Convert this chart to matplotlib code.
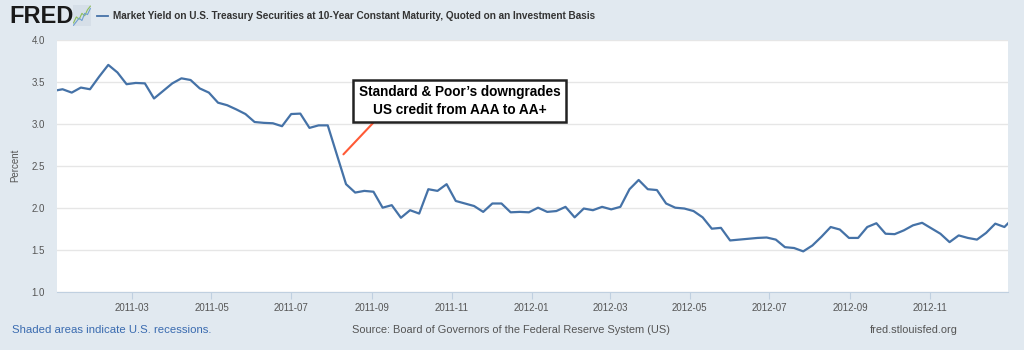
import pandas as pd
import numpy as np
import matplotlib
matplotlib.use("Agg")
import matplotlib.pyplot as plt
import matplotlib.dates as mdates

plt.rcParams['font.family'] = ['Liberation Sans', 'DejaVu Sans']

# weekly averages (week ending Friday), 10-year treasury yield, percent
dates = pd.date_range('2010-12-31', '2013-01-04', freq='W-FRI')
yield_2010 = [3.39]
yield_2011 = [3.41, 3.37, 3.43, 3.41,
              3.56, 3.70, 3.61, 3.47,
              3.485, 3.48, 3.30, 3.39,
              3.48, 3.54, 3.52, 3.42, 3.37,
              3.25, 3.22, 3.17, 3.115,
              3.02, 3.01, 3.005, 2.97,
              3.115, 3.12, 2.95, 2.98, 2.98,
              2.63, 2.28, 2.18, 2.20,
              2.19, 2.00, 2.03, 1.88, 1.97,
              1.93, 2.22, 2.20, 2.28,
              2.08, 2.05, 2.02, 1.95,
              2.05, 2.05, 1.945, 1.95, 1.945]
yield_2012 = [2.00, 1.95, 1.96, 2.01,
              1.885, 1.99, 1.97, 2.01,
              1.98, 2.01, 2.22, 2.33, 2.22,
              2.21, 2.05, 2.00, 1.99,
              1.96, 1.885, 1.75, 1.76,
              1.61, 1.62, 1.63, 1.64, 1.645,
              1.62, 1.53, 1.52, 1.48,
              1.55, 1.655, 1.77, 1.74, 1.64,
              1.64, 1.77, 1.815, 1.69,
              1.685, 1.73, 1.79, 1.82,
              1.755, 1.69, 1.59, 1.67, 1.64,
              1.62, 1.70, 1.81, 1.77]
yield_2013 = [1.88]
values = yield_2010 + yield_2011 + yield_2012 + yield_2013

y_ticks = [1.0, 1.5, 2.0, 2.5, 3.0, 3.5, 4.0]
x_ticks = pd.date_range('2011-03-01', '2012-11-01', freq='2MS')

note_text = "Standard & Poor\u2019s downgrades\nUS credit from AAA to AA+"
note_date = pd.Timestamp('2011-08-10')
note_value = 2.635
note_box_date = pd.Timestamp('2011-11-07')
note_box_value = 3.27
title = ("Market Yield on U.S. Treasury Securities at 10-Year Constant Maturity, "
         "Quoted on an Investment Basis")

bg = '#e1e9f0'
line_color = '#4572a7'

fig = plt.figure(figsize=(10.24, 3.5), dpi=100, facecolor=bg)
ax = fig.add_axes([0.056, 0.1666, 0.9287, 0.72])
ax.set_facecolor('white')

ax.plot(dates, values, color=line_color, linewidth=1.6, solid_joinstyle='round')
ax.set_xlim(pd.Timestamp('2011-01-03'), pd.Timestamp('2012-12-31'))
ax.set_ylim(1.0, 4.0)
ax.set_yticks(y_ticks)
ax.set_yticklabels([f"{v:.1f}" for v in y_ticks])
ax.set_xticks(x_ticks)
ax.xaxis.set_major_formatter(mdates.DateFormatter('%Y-%m'))

ax.grid(axis='y', color='#e6e6e6', linewidth=1)
ax.set_axisbelow(True)
for side in ['top', 'right', 'left']:
    ax.spines[side].set_visible(False)
ax.spines['bottom'].set_color('#c0d0e0')
ax.tick_params(axis='y', length=0, labelsize=7, labelcolor='#555555', pad=9)
ax.tick_params(axis='x', length=5, direction='out', color='#c0d0e0',
               labelsize=7, labelcolor='#555555', pad=3)
fig.text(15 / 1024, 1 - 165 / 350, 'Percent', rotation=90, fontsize=7,
         color='#555555', ha='center', va='center')

# annotation of the downgrade
ax.annotate(note_text, xy=(note_date, note_value),
            xytext=(note_box_date, note_box_value),
            ha='center', va='center', fontsize=9.8, fontweight='bold',
            color='black', linespacing=1.3,
            bbox=dict(boxstyle='square,pad=0.4', facecolor='white',
                      edgecolor='#222222', linewidth=1.8),
            arrowprops=dict(arrowstyle='-', color='#ff5a36', linewidth=1.5,
                            shrinkA=0, shrinkB=0, relpos=(0.1, 0.0)))

# header
fig.text(0.009, 0.953, 'FRED', fontsize=17, fontweight='bold', color='#1a1a1a',
         va='center', ha='left')
icon = fig.add_axes([0.071, 0.925, 0.018, 0.06])
icon_x = [0, 1, 2, 3, 4, 5, 6]
icon_green = [1.0, 2.0, 1.6, 2.6, 2.2, 3.2, 3.8]
icon_blue = [0.6, 1.2, 1.8, 1.4, 2.6, 2.4, 3.4]
icon.plot(icon_x, icon_green, color='#8fbf5a', linewidth=0.8)
icon.plot(icon_x, icon_blue, color='#6f9fd0', linewidth=0.8)
icon.set_facecolor('#d6dfe8')
icon.set_xticks([])
icon.set_yticks([])
for s in icon.spines.values():
    s.set_visible(False)

fig.lines.append(plt.Line2D([0.095, 0.105], [0.953, 0.953], transform=fig.transFigure,
                            color=line_color, linewidth=1.3))
fig.text(0.110, 0.953, title, fontsize=7.2, fontweight='bold', color='#333333',
         va='center', ha='left')

# footer
fig.text(0.012, 0.058, 'Shaded areas indicate U.S. recessions.', fontsize=8.2,
         color='#3a6bb0', va='center', ha='left')
fig.text(0.344, 0.058, 'Source: Board of Governors of the Federal Reserve System (US)',
         fontsize=7.9, color='#555555', va='center', ha='left')
fig.text(0.935, 0.058, 'fred.stlouisfed.org', fontsize=7.9, color='#555555',
         va='center', ha='right')

fig.savefig('out.png', dpi=100, facecolor=bg)
